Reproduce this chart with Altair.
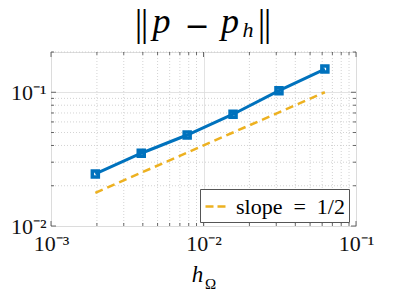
import math
import altair as alt
import pandas as pd

# ---- data ----
h = [1/512, 1/256, 1/128, 1/64, 1/32, 1/16]
err = [0.0245, 0.0350, 0.0479, 0.0685, 0.1028, 0.149]
ref_h = [1/512, 1/16]
ref_err = [0.0177, 0.1]
legend_label = ["slope\u2002=\u20021/2"]

x_major = [0.001, 0.01, 0.1]
x_labels = ["10⁻³", "10⁻²", "10⁻¹"]
y_major = [0.01, 0.1]
y_labels = ["10⁻²", "10⁻¹"]
x_minor = [0.002, 0.003, 0.004, 0.005, 0.006, 0.007, 0.008, 0.009,
           0.02, 0.03, 0.04, 0.05, 0.06, 0.07, 0.08, 0.09]
y_minor = [0.02, 0.03, 0.04, 0.05, 0.06, 0.07, 0.08, 0.09, 0.2]

BLUE = "#0072BD"
ORANGE = "#EDB120"
SERIF = "Times New Roman"
W, H = 305, 174

xs = alt.Scale(type="log", domain=[0.001, 0.1], nice=False)
ys = alt.Scale(type="log", domain=[0.01, 0.2], nice=False)


def label_expr(vals, labels):
    parts = []
    for v, l in zip(vals, labels):
        parts.append(f"abs(log(datum.value)/LN10 - ({math.log10(v):.4f})) < 0.01 ? '{l}' : ")
    return "".join(parts) + "''"


axis_common = dict(grid=True, gridColor="#dcdcdc", gridWidth=0.8, ticks=False, domain=False,
                   labelFont=SERIF, labelFontSize=22, labelColor="#111", title=None,
                   labelFlush=False)
X_AXIS = alt.Axis(values=x_major, labelExpr=label_expr(x_major, x_labels), labelPadding=7,
                  **axis_common)
Y_AXIS = alt.Axis(values=y_major, labelExpr=label_expr(y_major, y_labels), labelPadding=5,
                  **axis_common)

df = pd.DataFrame({"h": h, "err": err})
ref = pd.DataFrame({"h": ref_h, "err": ref_err, "series": legend_label * 2})
xmin_df = pd.DataFrame({"v": x_minor})
xmaj_df = pd.DataFrame({"v": x_major})
ymin_df = pd.DataFrame({"v": y_minor})
ymaj_df = pd.DataFrame({"v": y_major})
one = pd.DataFrame({"a": [0]})


def X(f):
    return alt.X(f, scale=xs, axis=X_AXIS)


def Y(f):
    return alt.Y(f, scale=ys, axis=Y_AXIS)


# minor grid
grid_x = alt.Chart(xmin_df).mark_rule(color="#c8c8c8", strokeDash=[1, 2], strokeWidth=0.8).encode(
    x=X("v:Q"))
grid_y = alt.Chart(ymin_df).mark_rule(color="#c8c8c8", strokeDash=[1, 2], strokeWidth=0.8).encode(
    y=Y("v:Q"))

# inward ticks
TC = "#444"
ticks = []
for dfv, ln in ((xmin_df, 3), (xmaj_df, 5)):
    ticks.append(alt.Chart(dfv).mark_rule(color=TC, strokeWidth=0.8).encode(
        x=X("v:Q"), y=alt.value(H), y2=alt.value(H - ln)))
    ticks.append(alt.Chart(dfv).mark_rule(color=TC, strokeWidth=0.8).encode(
        x=X("v:Q"), y=alt.value(0), y2=alt.value(ln)))
for dfv, ln in ((ymin_df, 3), (ymaj_df, 5)):
    ticks.append(alt.Chart(dfv).mark_rule(color=TC, strokeWidth=0.8).encode(
        y=Y("v:Q"), x=alt.value(0), x2=alt.value(ln)))
    ticks.append(alt.Chart(dfv).mark_rule(color=TC, strokeWidth=0.8).encode(
        y=Y("v:Q"), x=alt.value(W), x2=alt.value(W - ln)))

# reference slope line (with legend)
slope = alt.Chart(ref).mark_line(strokeDash=[8, 5], strokeWidth=2.5).encode(
    x=X("h:Q"),
    y=Y("err:Q"),
    color=alt.Color("series:N",
                    scale=alt.Scale(domain=legend_label, range=[ORANGE]),
                    legend=alt.Legend(orient="none", legendX=149, legendY=137, title=None,
                                      symbolType="stroke", symbolSize=576, symbolStrokeWidth=2.5,
                                      symbolDash=[8, 4], labelFont=SERIF, labelFontSize=22,
                                      labelColor="#000", fillColor="white", strokeColor="#555",
                                      padding=4, labelOffset=5, labelLimit=300)))

main_line = alt.Chart(df).mark_line(color=BLUE, strokeWidth=3).encode(
    x=X("h:Q"), y=Y("err:Q"))
markers = alt.Chart(df).mark_point(shape="square", filled=False, color=BLUE, strokeWidth=3.5,
                                   size=36, opacity=1).encode(
    x=X("h:Q"), y=Y("err:Q"))


def txt(s, x, y, size, italic=False, font=SERIF):
    return alt.Chart(one).mark_text(text=s, font=font, fontSize=size,
                                    fontStyle="italic" if italic else "normal",
                                    align="center", baseline="alphabetic", color="#000").encode(
        x=alt.value(x), y=alt.value(y))


title_parts = [
    txt("|", 87.5, -16, 38),
    txt("|", 93.5, -16, 38),
    txt("p", 110.5, -19, 36, italic=True),
    txt("−", 146, -16, 30, font="DejaVu Serif"),
    txt("p", 179, -19, 36, italic=True),
    txt("h", 197, -15, 22, italic=True),
    txt("|", 210.5, -16, 38),
    txt("|", 216.5, -16, 38),
]
xtitle = [
    txt("h", 146.5, 230, 23, italic=True),
    txt("Ω", 159.5, 237, 15),
]

chart = alt.layer(grid_x, grid_y, *ticks, slope, main_line, markers, *title_parts, *xtitle).properties(
    width=W, height=H, autosize="none",
    padding={"left": 43, "top": 44, "right": 30, "bottom": 63},
).configure_view(stroke="#555", strokeWidth=1).configure(background="white")

chart.save("out.html", embed_options={"renderer": "svg", "actions": False})
